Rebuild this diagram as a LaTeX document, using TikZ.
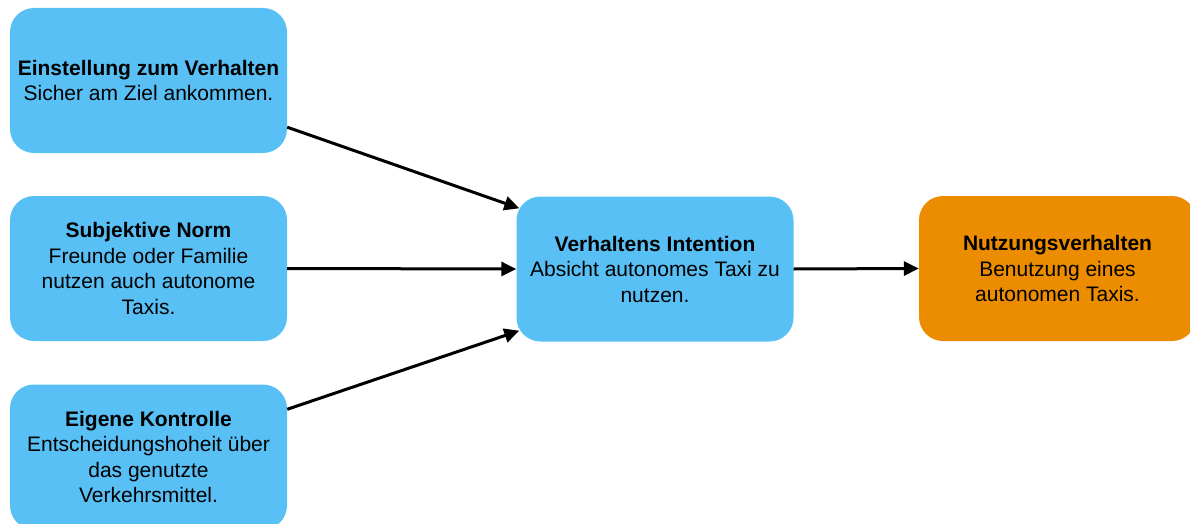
\documentclass[tikz,border=0pt]{standalone}
\usepackage{fontspec}
\setmainfont{Liberation Sans}
\usetikzlibrary{arrows.meta}
\definecolor{boxblue}{RGB}{89,192,245}
\definecolor{boxorange}{RGB}{236,140,0}
\tikzset{
  card/.style={rounded corners=24pt, minimum width=277pt, minimum height=145pt,
    align=center, inner sep=0pt, font=\fontsize{21}{25.5}\selectfont, text=black},
  bluecard/.style={card, fill=boxblue},
  orangecard/.style={card, fill=boxorange},
  link/.style={line width=3pt, -{Triangle[length=15pt,width=14pt]}},
}
\begin{document}
\begin{tikzpicture}[x=1pt,y=-1pt]
\useasboundingbox (0,0) rectangle (1190,524);
\clip (0,0) rectangle (1190,524);
\node[bluecard] (b1) at (148.5,80.5) {\textbf{Einstellung zum Verhalten}\\Sicher am Ziel ankommen.};
\node[bluecard] (b2) at (148.5,268.5) {\textbf{Subjektive Norm}\\Freunde oder Familie\\nutzen auch autonome\\Taxis.};
\node[bluecard] (b3) at (148.5,457) {\textbf{Eigene Kontrolle}\\Entscheidungshoheit über\\das genutzte\\Verkehrsmittel.};
\node[bluecard] (c) at (655,269) {\textbf{Verhaltens Intention}\\Absicht autonomes Taxi zu\\nutzen.};
\node[orangecard] (r) at (1057.5,268.5) {\textbf{Nutzungsverhalten}\\Benutzung eines\\autonomen Taxis.};
\draw[link] ([yshift=26pt]b1.south east) -- ([xshift=3pt,yshift=-12pt]c.north west);
\draw[link] (b2.east) -- (c.west);
\draw[link] ([yshift=-25pt]b3.north east) -- ([xshift=3pt,yshift=11pt]c.south west);
\draw[link] (c.east) -- (r.west);
\end{tikzpicture}
\end{document}
